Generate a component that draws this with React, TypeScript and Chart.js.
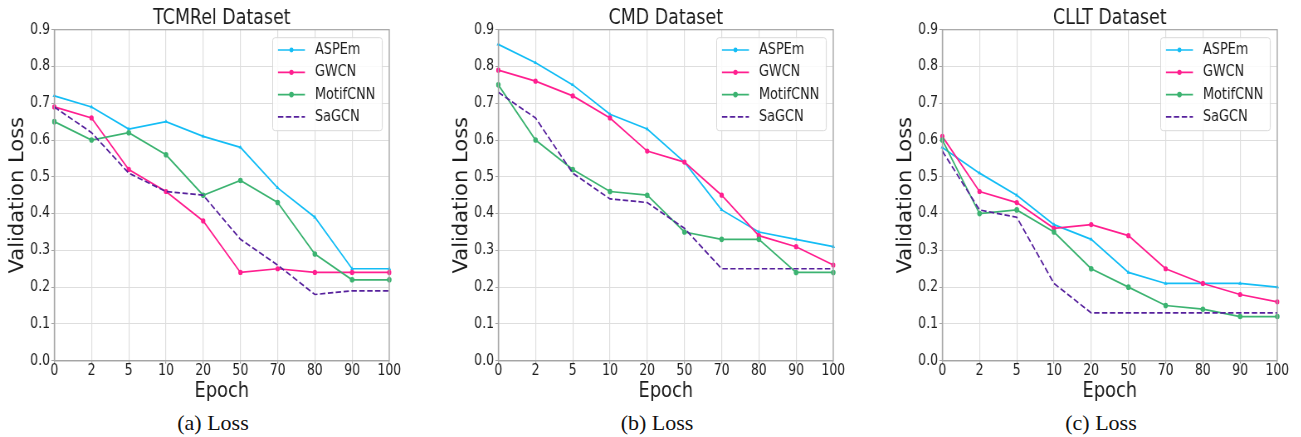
import React, { useEffect, useRef } from 'react';
import { Chart, registerables } from 'chart.js';

Chart.register(...registerables);

// ---------- data ----------
const epochs = ['0', '2', '5', '10', '20', '50', '70', '80', '90', '100'];
const seriesNames = ['ASPEm', 'GWCN', 'MotifCNN', 'SaGCN'];
const yTicks = [0, 0.1, 0.2, 0.3, 0.4, 0.5, 0.6, 0.7, 0.8, 0.9];
const yAxisTitle = 'Validation Loss';
const xAxisTitle = 'Epoch';

const tcmrelASPEm = [0.72, 0.69, 0.63, 0.65, 0.61, 0.58, 0.47, 0.39, 0.25, 0.25];
const tcmrelGWCN = [0.69, 0.66, 0.52, 0.46, 0.38, 0.24, 0.25, 0.24, 0.24, 0.24];
const tcmrelMotifCNN = [0.65, 0.6, 0.62, 0.56, 0.45, 0.49, 0.43, 0.29, 0.22, 0.22];
const tcmrelSaGCN = [0.69, 0.62, 0.51, 0.46, 0.45, 0.33, 0.26, 0.18, 0.19, 0.19];

const cmdASPEm = [0.86, 0.81, 0.75, 0.67, 0.63, 0.54, 0.41, 0.35, 0.33, 0.31];
const cmdGWCN = [0.79, 0.76, 0.72, 0.66, 0.57, 0.54, 0.45, 0.34, 0.31, 0.26];
const cmdMotifCNN = [0.75, 0.6, 0.52, 0.46, 0.45, 0.35, 0.33, 0.33, 0.24, 0.24];
const cmdSaGCN = [0.73, 0.66, 0.51, 0.44, 0.43, 0.36, 0.25, 0.25, 0.25, 0.25];

const clltASPEm = [0.58, 0.51, 0.45, 0.37, 0.33, 0.24, 0.21, 0.21, 0.21, 0.2];
const clltGWCN = [0.61, 0.46, 0.43, 0.36, 0.37, 0.34, 0.25, 0.21, 0.18, 0.16];
const clltMotifCNN = [0.6, 0.4, 0.41, 0.35, 0.25, 0.2, 0.15, 0.14, 0.12, 0.12];
const clltSaGCN = [0.57, 0.41, 0.39, 0.21, 0.13, 0.13, 0.13, 0.13, 0.13, 0.13];

// ---------- styles ----------
const FONT = '"DejaVu Sans", sans-serif';
const TEXT = '#1c1c1c';
const GRID = '#dedede';
const SPINE = '#a6a6a6';
const seriesColors = ['#14bdf5', '#ff1f8f', '#3cb371', '#56209c'];
const seriesDash: number[][] = [[], [], [], [6.5, 3]];
const seriesPointStyle = ['triangle', 'circle', 'circle', 'circle'];
const seriesPointRadius = [2.4, 2.6, 2.8, 0];
const seriesOrder = [3, 2, 1, 0];

// the reference figure is squeezed horizontally; draw wider and compress with CSS
const K = 0.83;
const Y_AXIS_W = 54.3 / K;
const PLOT_W = 335 / K;
const RIGHT_PAD = 15;
const CANVAS_W = Math.round(Y_AXIS_W + PLOT_W + RIGHT_PAD);
const CANVAS_H = 405;
const PLOT_BOTTOM = 360.7;

const frameLegendPlugin = {
  id: 'frameLegend',
  afterDraw(chart: any) {
    const { ctx, chartArea } = chart;
    ctx.save();
    ctx.strokeStyle = SPINE;
    ctx.lineWidth = 1.2;
    ctx.setLineDash([]);
    ctx.strokeRect(chartArea.left, chartArea.top, chartArea.right - chartArea.left, chartArea.bottom - chartArea.top);

    // y axis title, drawn without the horizontal squeeze
    ctx.save();
    ctx.translate(17.8 / K, (chartArea.top + chartArea.bottom) / 2);
    ctx.scale(1 / K, 1);
    ctx.rotate(-Math.PI / 2);
    ctx.font = `21px ${FONT}`;
    ctx.fillStyle = TEXT;
    ctx.textAlign = 'center';
    ctx.textBaseline = 'middle';
    ctx.fillText(yAxisTitle, 0, 0);
    ctx.restore();

    // legend
    ctx.font = `15.5px ${FONT}`;
    const ds = chart.data.datasets;
    let maxW = 0;
    ds.forEach((d: any) => { maxW = Math.max(maxW, ctx.measureText(d.label).width); });
    const w = 42.3 / K + maxW + 7 / K;
    const h = 93;
    const x = chartArea.right - 7 / K - w;
    const y = chartArea.top + 8;
    ctx.beginPath();
    if (ctx.roundRect) ctx.roundRect(x, y, w, h, 3); else ctx.rect(x, y, w, h);
    ctx.fillStyle = 'rgba(255,255,255,0.85)';
    ctx.fill();
    ctx.strokeStyle = '#d9d9d9';
    ctx.lineWidth = 1;
    ctx.stroke();

    ds.forEach((d: any, i: number) => {
      const ry = y + 12.3 + i * 22.3;
      const x0 = x + 5.3 / K;
      const x1 = x + 32.3 / K;
      ctx.beginPath();
      ctx.setLineDash(d.borderDash || []);
      ctx.strokeStyle = d.borderColor;
      ctx.lineWidth = d.borderWidth;
      ctx.moveTo(x0, ry);
      ctx.lineTo(x1, ry);
      ctx.stroke();
      ctx.setLineDash([]);
      if (d.pointRadius > 0) {
        ctx.fillStyle = d.borderColor;
        ctx.beginPath();
        ctx.arc((x0 + x1) / 2, ry, d.pointRadius, 0, Math.PI * 2);
        ctx.fill();
      }
      ctx.fillStyle = TEXT;
      ctx.textBaseline = 'middle';
      ctx.textAlign = 'left';
      ctx.fillText(d.label, x + 42.3 / K, ry);
    });
    ctx.restore();
  },
};

type PanelProps = {
  title: string;
  series: number[][];
  left: number;
  caption: string;
};

function Panel({ title, series, left, caption }: PanelProps) {
  const ref = useRef<HTMLCanvasElement | null>(null);
  useEffect(() => {
    if (!ref.current) return;
    const chart = new Chart(ref.current, {
      type: 'line',
      data: {
        labels: epochs,
        datasets: series.map((vals, i) => ({
          label: seriesNames[i],
          data: vals,
          borderColor: seriesColors[i],
          backgroundColor: seriesColors[i],
          borderWidth: 1.7,
          borderDash: seriesDash[i],
          pointStyle: seriesPointStyle[i],
          pointRadius: seriesPointRadius[i],
          pointBorderWidth: 0,
          pointHoverRadius: 0,
          fill: false,
          tension: 0,
          order: seriesOrder[i],
        })),
      },
      options: {
        responsive: false,
        animation: false,
        devicePixelRatio: 1,
        layout: { padding: { left: 0, right: CANVAS_W - Y_AXIS_W - PLOT_W, top: 0, bottom: 0 } },
        plugins: {
          legend: { display: false },
          tooltip: { enabled: false },
          title: {
            display: true,
            text: title,
            fullSize: false,
            color: TEXT,
            font: { family: FONT, size: 21, weight: 'normal', lineHeight: 1.0 },
            padding: { top: 8.1, bottom: 0.6 },
          },
        },
        scales: {
          x: {
            type: 'category',
            offset: false,
            grid: { color: GRID, lineWidth: 1.2, drawTicks: true, tickLength: 3, tickColor: SPINE },
            border: { display: true, color: SPINE, width: 1.2 },
            ticks: { color: TEXT, font: { family: FONT, size: 15, lineHeight: 1.0 }, padding: 0.3, maxRotation: 0, autoSkip: false },
            title: {
              display: true,
              text: xAxisTitle,
              color: TEXT,
              font: { family: FONT, size: 21.5, lineHeight: 1.2 },
              padding: { top: 0, bottom: 1.1 },
            },
            afterFit: (scale: any) => { scale.height = CANVAS_H - PLOT_BOTTOM; },
          },
          y: {
            type: 'linear',
            min: 0,
            max: 0.9,
            afterBuildTicks: (scale: any) => { scale.ticks = yTicks.map((v) => ({ value: v })); },
            grid: { color: GRID, lineWidth: 1, drawTicks: true, tickLength: 3.6, tickColor: SPINE },
            border: { display: true, color: SPINE, width: 1.4 },
            ticks: {
              color: TEXT,
              font: { family: FONT, size: 15 },
              padding: 1.6,
              callback: (v: any) => Number(v).toFixed(1),
            },
            title: { display: false },
            afterFit: (scale: any) => { scale.width = Y_AXIS_W; },
          },
        },
      },
      plugins: [frameLegendPlugin],
    } as any);
    return () => chart.destroy();
  }, []);

  return (
    <>
      <canvas
        ref={ref}
        width={CANVAS_W}
        height={CANVAS_H}
        style={{
          position: 'absolute',
          left,
          top: 0,
          width: CANVAS_W,
          height: CANVAS_H,
          transform: `scaleX(${K})`,
          transformOrigin: '0 0',
        }}
      />
      <div
        style={{
          position: 'absolute',
          left: left + 54.3 + 158.7 - 100,
          width: 200,
          top: 412,
          textAlign: 'center',
          fontFamily: '"Liberation Serif", serif',
          fontSize: 22,
          lineHeight: '22px',
          color: '#111',
          whiteSpace: 'nowrap',
        }}
      >
        {caption}
      </div>
    </>
  );
}

export default function App() {
  return (
    <div style={{ position: 'absolute', left: 0, top: 0, width: 1301, height: 437, background: '#fff', overflow: 'hidden' }}>
      <Panel title="TCMRel Dataset" series={[tcmrelASPEm, tcmrelGWCN, tcmrelMotifCNN, tcmrelSaGCN]} left={0} caption="(a) Loss" />
      <Panel title="CMD Dataset" series={[cmdASPEm, cmdGWCN, cmdMotifCNN, cmdSaGCN]} left={444} caption="(b) Loss" />
      <Panel title="CLLT Dataset" series={[clltASPEm, clltGWCN, clltMotifCNN, clltSaGCN]} left={888} caption="(c) Loss" />
    </div>
  );
}
